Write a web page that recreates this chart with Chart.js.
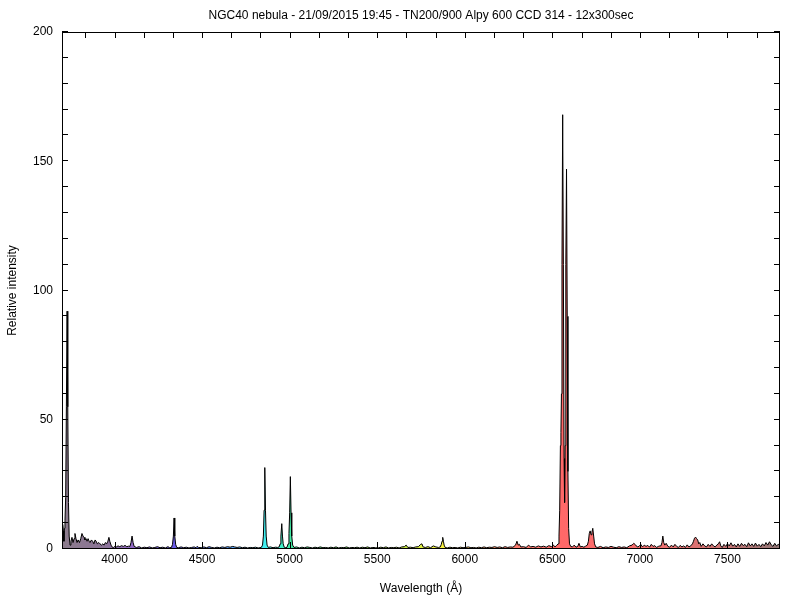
<!DOCTYPE html>
<html>
<head>
<meta charset="utf-8">
<script src="https://cdn.jsdelivr.net/npm/chart.js@4.4.1/dist/chart.umd.min.js"></script>
<style>html,body{margin:0;padding:0;background:#fff}</style>
</head>
<body>
<canvas id="spec" width="800" height="600"></canvas>
<script>
const chartTitle = "NGC40 nebula - 21/09/2015 19:45 - TN200/900 Alpy 600 CCD 314 - 12x300sec";
const xTitle = "Wavelength (\u00c5)";
const yTitle = "Relative intensity";
const xMin = 3700, xMax = 7800;
const yMin = 0, yMax = 200;
const xTicks = [4000, 4500, 5000, 5500, 6000, 6500, 7000, 7500];
const yTicks = [0, 50, 100, 150, 200];

// wavelength (A) and relative intensity
const wavelengths = [
  3700,3704,3708,3711,3714,3717,3721,3725,3729,3733,
  3737,3741,3746,3751,3757,3763,3769,3774,3780,3786,
  3792,3800,3807,3814,3820,3826,3831,3837,3843,3849,
  3855,3860,3868,3875,3882,3889,3895,3902,3910,3917,
  3925,3933,3940,3948,3955,3962,3968,3973,3980,3986,
  3993,4000,4010,4020,4030,4040,4050,4060,4070,4080,
  4088,4094,4100,4106,4112,4125,4140,4155,4170,4185,
  4200,4215,4230,4245,4260,4275,4290,4305,4315,4325,
  4331,4336,4340,4344,4349,4355,4365,4380,4395,4410,
  4425,4440,4455,4465,4471,4480,4495,4510,4525,4540,
  4555,4570,4585,4600,4615,4630,4645,4660,4675,4686,
  4700,4715,4730,4745,4760,4775,4790,4805,4820,4838,
  4845,4850,4854,4858,4862,4866,4871,4878,4890,4905,
  4920,4932,4940,4946,4950,4955,4959,4963,4969,4978,
  4985,4991,4996,5000,5004,5008,5012,5017,5025,5040,
  5055,5070,5085,5100,5115,5130,5145,5160,5175,5190,
  5205,5220,5235,5250,5265,5280,5295,5310,5325,5340,
  5355,5370,5385,5400,5415,5430,5445,5460,5475,5490,
  5505,5520,5535,5550,5565,5580,5595,5610,5625,5640,
  5655,5665,5675,5690,5705,5720,5735,5748,5755,5762,
  5775,5790,5805,5820,5835,5850,5860,5866,5870,5874,
  5878,5882,5888,5900,5915,5930,5945,5960,5975,5990,
  6005,6020,6035,6050,6065,6080,6095,6110,6125,6140,
  6155,6170,6185,6200,6215,6230,6245,6260,6275,6290,
  6298,6305,6312,6320,6335,6350,6365,6375,6390,6405,
  6420,6435,6450,6465,6480,6495,6505,6515,6525,6533,
  6538,6542,6546,6549,6552,6555,6559,6563,6567,6570,
  6573,6577,6581,6585,6589,6593,6598,6605,6615,6625,
  6635,6645,6652,6660,6670,6680,6690,6700,6706,6711,
  6716,6721,6726,6731,6736,6741,6748,6760,6775,6790,
  6805,6820,6835,6850,6865,6880,6895,6910,6925,6940,
  6955,6965,6975,6985,6995,7005,7015,7025,7035,7045,
  7055,7065,7075,7085,7095,7105,7114,7120,7126,7131,
  7136,7142,7150,7160,7170,7180,7190,7200,7210,7220,
  7230,7240,7250,7260,7270,7280,7290,7300,7306,7312,
  7318,7324,7330,7336,7342,7350,7360,7370,7380,7390,
  7400,7410,7420,7430,7440,7448,7455,7462,7470,7480,
  7490,7500,7510,7520,7530,7540,7550,7560,7570,7580,
  7590,7600,7610,7620,7630,7640,7650,7660,7670,7680,
  7690,7700,7710,7720,7730,7740,7750,7760,7770,7780,
  7790,7800
];
const intensity = [
  6,9.5,7,3,8,11,20,55,92,55,
  18,5,1.5,3,4.5,2.5,4,6,4,2.5,
  3.5,2.5,4,6,5,4.5,3.5,4,3,4,
  3,2.5,3.5,3,2,3.5,3,2,2.5,2,
  1.5,2,1.5,2.5,2,3,4.5,3,1.5,0.8,
  0.5,1,0.8,1.2,0.9,1.3,1,1.4,0.9,1.1,
  1,2.5,5,2.5,1,0.6,0.9,0.4,0.7,0.5,
  0.8,0.4,0.6,0.9,0.5,0.7,0.4,0.9,0.5,0.6,
  1.8,5,12,5,1.8,0.6,0.5,0.8,0.5,0.7,
  0.4,0.6,0.8,0.5,1,0.6,0.5,0.8,0.5,0.9,
  0.6,0.4,0.7,0.5,0.8,0.6,0.9,0.7,1,0.8,
  0.6,0.8,0.5,0.7,0.4,0.6,0.5,0.7,0.4,0.6,
  1.5,5,15,31.5,15,5,1.5,0.6,0.8,0.5,
  0.7,0.6,0.8,2,5,9.8,5,2,0.7,0.5,
  0.7,2,6,14,28,14,5,1.5,0.6,0.8,
  0.4,0.7,0.5,0.8,0.6,0.4,0.7,0.5,0.8,0.5,
  0.6,0.4,0.7,0.5,0.8,0.4,0.6,0.5,0.8,0.4,
  0.6,0.5,0.7,0.4,0.7,0.5,0.8,0.4,0.6,0.5,
  0.4,0.7,0.5,0.8,0.4,0.6,0.5,0.7,0.4,0.8,
  0.9,1.5,0.6,0.7,0.5,0.8,0.9,1.8,2,0.8,
  0.6,0.9,0.5,1.2,0.8,0.6,0.8,1.8,3,4.5,
  3,1.5,0.6,0.4,0.7,0.5,0.6,0.4,0.7,0.5,
  0.6,0.8,0.5,0.6,0.4,0.7,0.5,0.8,0.5,0.7,
  0.6,0.9,0.6,0.8,0.5,0.9,0.6,0.8,0.7,1.5,
  3,1.5,1.8,0.8,0.9,0.6,1.5,0.8,1,0.7,
  1.2,0.8,1.1,0.7,1.3,0.9,1.6,0.8,1.4,2,
  5,15,40,45,60,110,168,110,35,18,
  40,110,147,90,30,8,2,1,0.8,1.5,
  0.7,1,2.2,0.8,1,0.7,1.1,1.5,3,6,
  7,5.5,6.5,8,5,2,0.8,0.6,1,0.5,
  0.8,0.6,1,0.7,0.5,0.9,0.6,0.8,0.5,1.2,
  1.5,2.2,1.6,0.8,1,1.8,0.8,1.5,1,1.4,
  0.7,1.8,1,1.3,0.6,1,1.2,1.2,2.5,5,
  2.5,1.5,2.2,1,0.7,1.5,0.8,1.8,1,0.6,
  1.4,0.8,1.2,0.6,1.6,0.8,1.2,2,3,4.2,
  4.6,4,3.5,2,2.5,1,2,1.2,0.8,1.8,
  1,2,1.2,0.8,1.6,2,2.8,1.2,0.6,1.8,
  1,2,1.2,2.4,1.1,1.8,0.8,2,1,2.2,
  1.3,1.8,0.9,2.4,1.2,2,1,2.3,1.1,1.8,
  0.9,2,1.2,2.5,1.5,2.8,1.6,1,2.2,1.2,
  1.8,1.4
];

// fill colour along the wavelength axis
const palette = [
  [3700, "#8c7c8c"], [3950, "#8c7498"], [4100, "#9068c4"], [4340, "#6a5ae8"],
  [4550, "#5a80f4"], [4720, "#58b4ff"], [4860, "#40f0f0"], [4960, "#40f0c8"],
  [5010, "#40e8a0"], [5250, "#48c848"], [5550, "#a8dc40"], [5760, "#e0f040"],
  [5876, "#f8f040"], [6020, "#ffc058"], [6230, "#ff8070"], [6560, "#ff6868"],
  [7050, "#f47070"], [7450, "#d07474"], [7800, "#927878"]
];

Chart.defaults.font.family = "'Liberation Sans', Arial, sans-serif";
Chart.defaults.font.size = 12;
Chart.defaults.color = "#000";

function spectrumFill(ctx) {
  const chart = ctx.chart;
  if (!chart.chartArea) return null;
  const xs = chart.scales.x;
  const x0 = xs.getPixelForValue(xMin), x1 = xs.getPixelForValue(xMax);
  const g = chart.ctx.createLinearGradient(x0, 0, x1, 0);
  for (const [w, c] of palette) g.addColorStop((w - xMin) / (xMax - xMin), c);
  return g;
}

const framePlugin = {
  id: "frame",
  afterDraw(chart) {
    const { ctx, chartArea: a, scales: { x, y } } = chart;
    ctx.save();
    ctx.strokeStyle = "#000";
    ctx.lineWidth = 1;
    ctx.strokeRect(a.left + 0.5, a.top + 0.5, a.right - a.left - 1, a.bottom - a.top - 1);

    ctx.beginPath();
    for (let v = yMin; v <= yMax; v += 10) {
      const py = Math.round(y.getPixelForValue(v)) - 0.5;
      ctx.moveTo(a.left, py); ctx.lineTo(a.left + 6, py);
      ctx.moveTo(a.right, py); ctx.lineTo(a.right - 6, py);
    }
    for (let v = xTicks[0] - 500 / 3; v < xMax; v += 500 / 3) {
      const px = Math.round(x.getPixelForValue(v)) + 0.5;
      ctx.moveTo(px, a.top); ctx.lineTo(px, a.top + 6);
    }
    for (const v of xTicks) {
      const px = Math.round(x.getPixelForValue(v)) + 0.5;
      ctx.moveTo(px, a.bottom); ctx.lineTo(px, a.bottom - 7);
    }
    ctx.stroke();

    ctx.fillStyle = "#000";
    ctx.font = "12px 'Liberation Sans', Arial, sans-serif";
    ctx.textAlign = "center";
    ctx.textBaseline = "middle";
    const cx = (a.left + a.right) / 2;
    ctx.fillText(chartTitle, cx, 16);
    ctx.fillText(xTitle, cx, 589);
    ctx.translate(13, (a.top + a.bottom) / 2);
    ctx.rotate(-Math.PI / 2);
    ctx.fillText(yTitle, 0, 0);
    ctx.restore();
  }
};

new Chart(document.getElementById("spec"), {
  type: "line",
  data: {
    datasets: [{
      data: wavelengths.map((w, i) => ({ x: w, y: intensity[i] })),
      borderColor: "#000",
      borderWidth: 1,
      borderJoinStyle: "round",
      backgroundColor: spectrumFill,
      fill: "origin",
      pointRadius: 0,
      tension: 0
    }]
  },
  options: {
    responsive: false,
    animation: false,
    devicePixelRatio: 1,
    layout: { padding: { top: 32, right: 20, left: 0, bottom: 0 } },
    plugins: { legend: { display: false }, tooltip: { enabled: false }, title: { display: false } },
    scales: {
      x: {
        type: "linear",
        min: xMin, max: xMax,
        grid: { display: false, drawTicks: false },
        border: { display: false },
        ticks: { padding: 3, maxRotation: 0, autoSkip: false, callback: v => String(v) },
        afterBuildTicks: s => { s.ticks = xTicks.map(v => ({ value: v })); },
        afterFit: s => { s.height = 51; }
      },
      y: {
        min: yMin, max: yMax,
        grid: { display: false, drawTicks: false },
        border: { display: false },
        ticks: { padding: 9, autoSkip: false, callback: v => String(v) },
        afterBuildTicks: s => { s.ticks = yTicks.map(v => ({ value: v })); },
        afterFit: s => { s.width = 62; }
      }
    }
  },
  plugins: [framePlugin]
});
</script>
</body>
</html>
